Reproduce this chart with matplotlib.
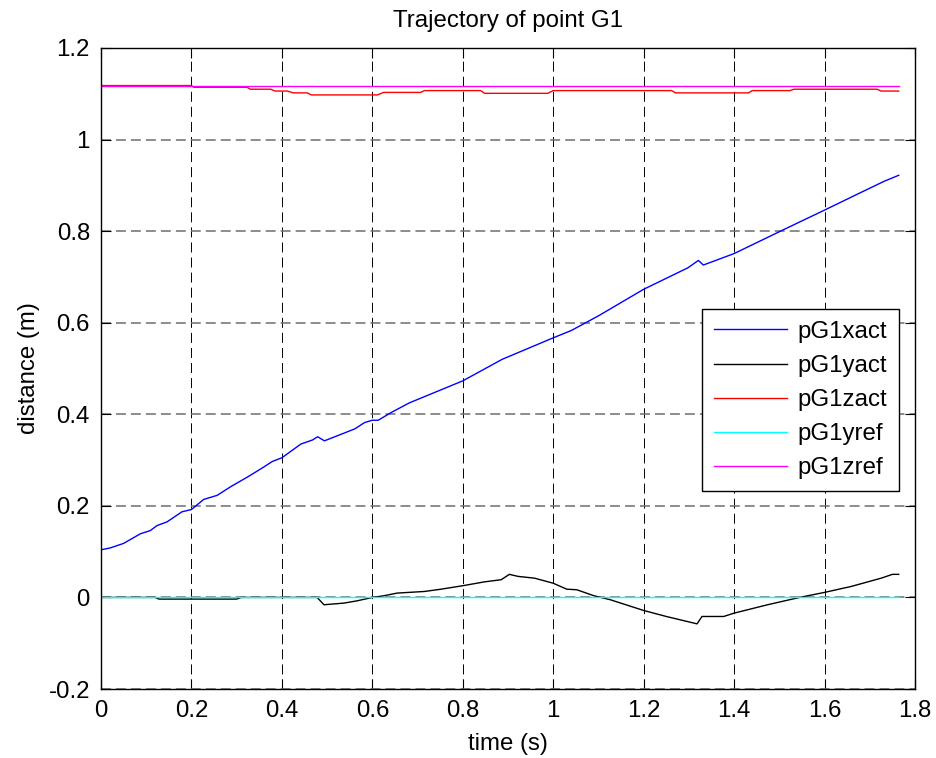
import matplotlib
matplotlib.use("Agg")
import matplotlib.pyplot as plt
from matplotlib.ticker import FormatStrFormatter

plt.rcParams["font.family"] = ["Liberation Sans", "DejaVu Sans"]
plt.rcParams["axes.unicode_minus"] = False

# position of G1 along x
t_x = [0, 0.02, 0.05, 0.087, 0.109, 0.124, 0.146, 0.179, 0.2, 0.227, 0.257, 0.287,
       0.324, 0.357, 0.379, 0.4, 0.442, 0.468, 0.479, 0.494, 0.561, 0.583, 0.6, 0.613,
       0.642, 0.682, 0.8, 0.887, 1.0, 1.04, 1.10, 1.2, 1.298, 1.321, 1.332, 1.4, 1.511,
       1.598, 1.671, 1.732, 1.764]
x_act = [0.104, 0.108, 0.118, 0.139, 0.146, 0.157, 0.165, 0.187, 0.192, 0.214, 0.223,
         0.242, 0.263, 0.283, 0.297, 0.305, 0.335, 0.344, 0.351, 0.342, 0.368, 0.382,
         0.387, 0.387, 0.404, 0.425, 0.473, 0.520, 0.567, 0.583, 0.615, 0.673, 0.720,
         0.736, 0.726, 0.751, 0.804, 0.845, 0.880, 0.909, 0.922]

# position along y
t_y = [0, 0.12, 0.128, 0.30, 0.31, 0.478, 0.493, 0.537, 0.567, 0.6, 0.626, 0.655,
       0.715, 0.752, 0.8, 0.848, 0.885, 0.903, 0.922, 0.959, 1.0, 1.03, 1.052, 1.09,
       1.126, 1.2, 1.25, 1.318, 1.329, 1.377, 1.4, 1.474, 1.548, 1.6, 1.659, 1.725,
       1.75, 1.764]
y_act = [0, 0, -0.0036, -0.0036, 0, 0, -0.016, -0.0124, -0.0073, 0, 0.0037, 0.0095,
         0.013, 0.018, 0.0256, 0.034, 0.0387, 0.0504, 0.046, 0.042, 0.031, 0.018, 0.0168,
         0.0037, -0.005, -0.0285, -0.0416, -0.0577, -0.0416, -0.0416, -0.0343, -0.016,
         0.0007, 0.011, 0.024, 0.042, 0.0504, 0.0504]

# position along z
t_z = [0, 0.2, 0.205, 0.323, 0.33, 0.375, 0.385, 0.412, 0.425, 0.456, 0.465, 0.611,
       0.625, 0.707, 0.715, 0.84, 0.848, 0.988, 1.0, 1.262, 1.27, 1.432, 1.44, 1.524,
       1.532, 1.716, 1.725, 1.764]
z_act = [1.118, 1.118, 1.1143, 1.1143, 1.110, 1.110, 1.106, 1.106, 1.102, 1.102,
         1.0975, 1.0975, 1.103, 1.103, 1.107, 1.107, 1.101, 1.101, 1.107, 1.107, 1.102,
         1.102, 1.107, 1.107, 1.110, 1.110, 1.106, 1.106]

# references
t_ref = [0, 1.764]
y_ref = [0, 0]
z_ref = [1.118, 1.118]

fs = 17.3

fig = plt.figure(figsize=(9.36, 7.58), dpi=100)
ax = fig.add_axes([101 / 936, 69 / 758, 814 / 936, 641 / 758])

lw = 1.0
ax.plot(t_x, x_act, color="#0000ff", lw=lw, label="pG1xact")
ax.plot(t_y, y_act, color="black", lw=lw, label="pG1yact")
ax.plot(t_z, z_act, color="#ff0000", lw=lw, label="pG1zact")
ax.plot(t_ref, y_ref, color="#00ffff", lw=lw, label="pG1yref")
ax.plot(t_ref, z_ref, color="#ff00ff", lw=lw, label="pG1zref")

ax.set_xlim(0, 1.8)
ax.set_ylim(-0.2, 1.2)
ax.set_xticks([i * 0.2 for i in range(10)])
ax.set_yticks([-0.2 + i * 0.2 for i in range(8)])
ax.xaxis.set_major_formatter(FormatStrFormatter("%g"))
ax.yaxis.set_major_formatter(FormatStrFormatter("%g"))
ax.tick_params(direction="in", length=7, width=0.8, top=True, right=True,
               labelsize=fs, pad=8)
for s in ax.spines.values():
    s.set_linewidth(1.0)

ax.set_axisbelow(True)
ax.xaxis.grid(True, color="black", lw=0.7, linestyle=(0, (10.3, 5.2)))
ax.yaxis.grid(True, color="#6e6e6e", lw=1.1, linestyle=(0, (6.5, 3.3)))

ax.set_title("Trajectory of point G1", fontsize=fs, pad=15)
ax.set_xlabel("time (s)", fontsize=fs, labelpad=8)
ax.set_ylabel("distance (m)", fontsize=fs, labelpad=6)

leg = ax.legend(loc="upper left", bbox_to_anchor=(0.738, 0.593), borderaxespad=0,
                fontsize=fs, fancybox=False, framealpha=1, edgecolor="black",
                handlelength=3.05, handletextpad=0.42, labelspacing=0.5,
                borderpad=0.5)
leg.get_frame().set_linewidth(1.0)

fig.savefig("out.png", dpi=100, facecolor="white")
